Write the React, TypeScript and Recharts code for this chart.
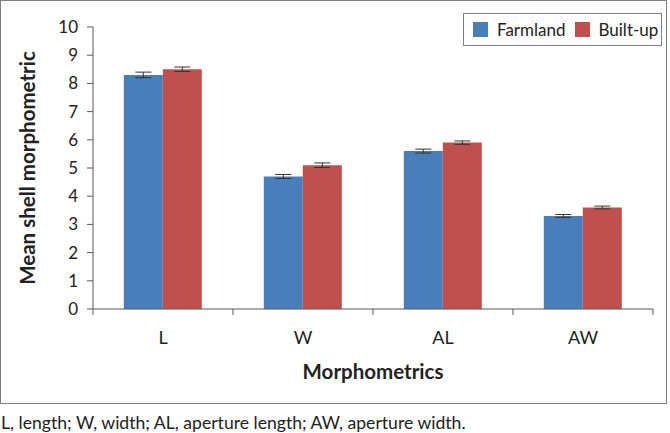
import React from 'react';
import { BarChart, Bar, XAxis, YAxis, ErrorBar, Legend, Label } from 'recharts';

const categories = ['L', 'W', 'AL', 'AW'];
const farmland = [8.3, 4.7, 5.6, 3.3];
const builtUp = [8.5, 5.1, 5.9, 3.6];
const farmlandErr = [0.1, 0.07, 0.07, 0.05];
const builtUpErr = [0.08, 0.08, 0.06, 0.05];
const yTicks = [0, 1, 2, 3, 4, 5, 6, 7, 8, 9, 10];
const seriesNames = ['Farmland', 'Built-up'];
const seriesColors = ['#4A7EBB', '#C0504D'];

const data = categories.map((name, i) => ({
  name,
  farmland: farmland[i],
  builtUp: builtUp[i],
  farmlandErr: farmlandErr[i],
  builtUpErr: builtUpErr[i],
}));

const FONT = 'Lato, sans-serif';
const AXIS = '#595959';

// category label plus Excel-style tick marks on the band edges
function CategoryTick(props: any) {
  const { x, y, payload, index } = props;
  const axisY = y - 22;
  const half = payload.offset || 0;
  return (
    <g>
      <line x1={x - half} x2={x - half} y1={axisY} y2={axisY + 6} stroke={AXIS} />
      {index === categories.length - 1 && (
        <line x1={x + half} x2={x + half} y1={axisY} y2={axisY + 6} stroke={AXIS} />
      )}
      <text x={x} y={axisY + 35} textAnchor="middle" fontSize={18} fill="#222" fontFamily={FONT}>
        {payload.value}
      </text>
    </g>
  );
}

function LegendBox() {
  return (
    <div
      style={{
        border: '1px solid #808080',
        height: 33,
        display: 'flex',
        alignItems: 'center',
        paddingLeft: 9,
        boxSizing: 'border-box',
        fontFamily: FONT,
        fontSize: 17,
        color: '#222',
        whiteSpace: 'nowrap',
      }}
    >
      {seriesNames.map((name, i) => (
        <div key={name} style={{ display: 'flex', alignItems: 'center', marginRight: 9 }}>
          <div style={{ width: 15, height: 15, background: seriesColors[i], marginRight: 9 }} />
          <span>{name}</span>
        </div>
      ))}
    </div>
  );
}

export default function App() {
  return (
    <div style={{ fontFamily: FONT }}>
      <style>{'body{margin:0}'}</style>
      <div style={{ width: 667, height: 404, border: '1px solid #808080', boxSizing: 'border-box' }}>
        <BarChart
          width={665}
          height={402}
          data={data}
          margin={{ top: 26, right: 13, left: 0, bottom: 0 }}
          barCategoryGap="22%"
          barGap={0}
        >
          <XAxis
            dataKey="name"
            height={94}
            tickLine={false}
            tickSize={0}
            tickMargin={22}
            axisLine={{ stroke: AXIS }}
            tick={<CategoryTick />}
            interval={0}
          >
            <Label
              value="Morphometrics"
              position="insideBottom"
              offset={24}
              style={{ fontSize: 20.5, fontWeight: 700, fill: '#222', fontFamily: FONT }}
            />
          </XAxis>
          <YAxis
            width={92}
            domain={[0, 10]}
            ticks={yTicks}
            interval={0}
            tickSize={6}
            tickMargin={9}
            axisLine={{ stroke: AXIS }}
            tickLine={{ stroke: AXIS }}
            tick={{ fontSize: 17, fill: '#222', fontFamily: FONT }}
          >
            <Label
              value="Mean shell morphometric"
              angle={-90}
              position="insideLeft"
              offset={27}
              style={{ textAnchor: 'middle', fontSize: 20.5, fontWeight: 700, fill: '#222', fontFamily: FONT }}
            />
          </YAxis>
          <Legend
            verticalAlign="middle"
            align="center"
            content={<LegendBox />}
            wrapperStyle={{ top: 12, left: 462, width: 199 }}
          />
          <Bar dataKey="farmland" name="Farmland" fill={seriesColors[0]} isAnimationActive={false}>
            <ErrorBar dataKey="farmlandErr" width={8} stroke="#333" strokeWidth={1} />
          </Bar>
          <Bar dataKey="builtUp" name="Built-up" fill={seriesColors[1]} isAnimationActive={false}>
            <ErrorBar dataKey="builtUpErr" width={8} stroke="#333" strokeWidth={1} />
          </Bar>
        </BarChart>
      </div>
      <div style={{ marginTop: 8, marginLeft: 1, fontSize: 17.6, lineHeight: '22px', color: '#222' }}>
        L, length; W, width; AL, aperture length; AW, aperture width.
      </div>
    </div>
  );
}
